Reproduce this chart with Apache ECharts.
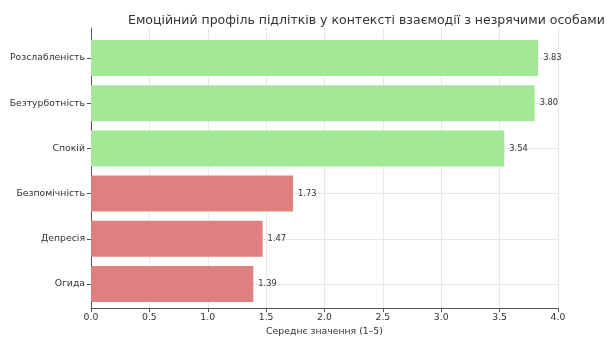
<!DOCTYPE html>
<html>
<head>
<meta charset="utf-8">
<script src="https://cdn.jsdelivr.net/npm/echarts@6/dist/echarts.min.js"></script>
<style>
  html, body { margin: 0; padding: 0; background: #fff; }
  #chart { width: 616px; height: 341px; }
</style>
</head>
<body>
<div id="chart"></div>
<script>
// Emotion categories, top to bottom
const categories = ['Розслабленість', 'Безтурботність', 'Спокій', 'Безпомічність', 'Депресія', 'Огида'];
// Mean scores (scale 1–5)
const meanScores = [3.83, 3.80, 3.54, 1.73, 1.47, 1.39];
// Tone of each emotion: positive or negative
const tones = ['pos', 'pos', 'pos', 'neg', 'neg', 'neg'];

const toneColor = { pos: '#a2e897', neg: '#e07f7f' };
const FONT = 'DejaVu Sans';

const chart = echarts.init(document.getElementById('chart'), null, { renderer: 'canvas' });

chart.setOption({
  animation: false,
  backgroundColor: '#ffffff',
  textStyle: { fontFamily: FONT },
  title: {
    text: 'Емоційний профіль підлітків у контексті взаємодії з незрячими особами',
    left: 123,
    top: 9,
    textStyle: { fontFamily: FONT, fontSize: 12.5, fontWeight: 'normal', color: '#333' }
  },
  grid: [
    // frame: x axis, vertical grid lines, left spine
    { left: 91, right: 58, top: 28, bottom: 26 },
    // bars, positioned on category centres
    { left: 91, right: 58, top: 58, bottom: 57 }
  ],
  xAxis: [
    {
      gridIndex: 0,
      type: 'value',
      min: 0,
      max: 4,
      interval: 0.5,
      name: 'Середнє значення (1–5)',
      nameLocation: 'middle',
      nameGap: 18,
      nameTextStyle: { fontFamily: FONT, fontSize: 9.3, color: '#333' },
      axisLine: { show: true, lineStyle: { color: '#555', width: 1 } },
      axisTick: { show: true, inside: false, length: 4, lineStyle: { color: '#555' } },
      axisLabel: {
        fontFamily: FONT, fontSize: 9.3, color: '#333', margin: 5,
        formatter: v => v.toFixed(1)
      },
      splitLine: { show: true, lineStyle: { color: '#e8e8e8', width: 1 } }
    },
    {
      gridIndex: 1,
      type: 'value',
      min: 0,
      max: 4,
      show: false
    }
  ],
  yAxis: [
    {
      gridIndex: 0,
      type: 'value',
      min: 0,
      max: 1,
      axisLine: { show: true, lineStyle: { color: '#555', width: 1 } },
      axisTick: { show: false },
      axisLabel: { show: false },
      splitLine: { show: false }
    },
    {
      gridIndex: 1,
      type: 'category',
      data: categories,
      inverse: true,
      boundaryGap: false,
      axisLine: { show: false },
      axisTick: { show: true, inside: false, length: 4, lineStyle: { color: '#555' } },
      axisLabel: { fontFamily: FONT, fontSize: 9.3, color: '#333', margin: 6 },
      splitLine: { show: true, lineStyle: { color: '#e8e8e8', width: 1 } }
    }
  ],
  series: [
    {
      type: 'bar',
      xAxisIndex: 1,
      yAxisIndex: 1,
      barWidth: 36,
      clip: false,
      data: meanScores.map((v, i) => ({
        value: v,
        itemStyle: { color: toneColor[tones[i]] }
      })),
      label: {
        show: true,
        position: 'right',
        distance: 5,
        fontFamily: FONT,
        fontSize: 8.3,
        color: '#333',
        formatter: p => p.value.toFixed(2)
      }
    }
  ]
});
</script>
</body>
</html>
